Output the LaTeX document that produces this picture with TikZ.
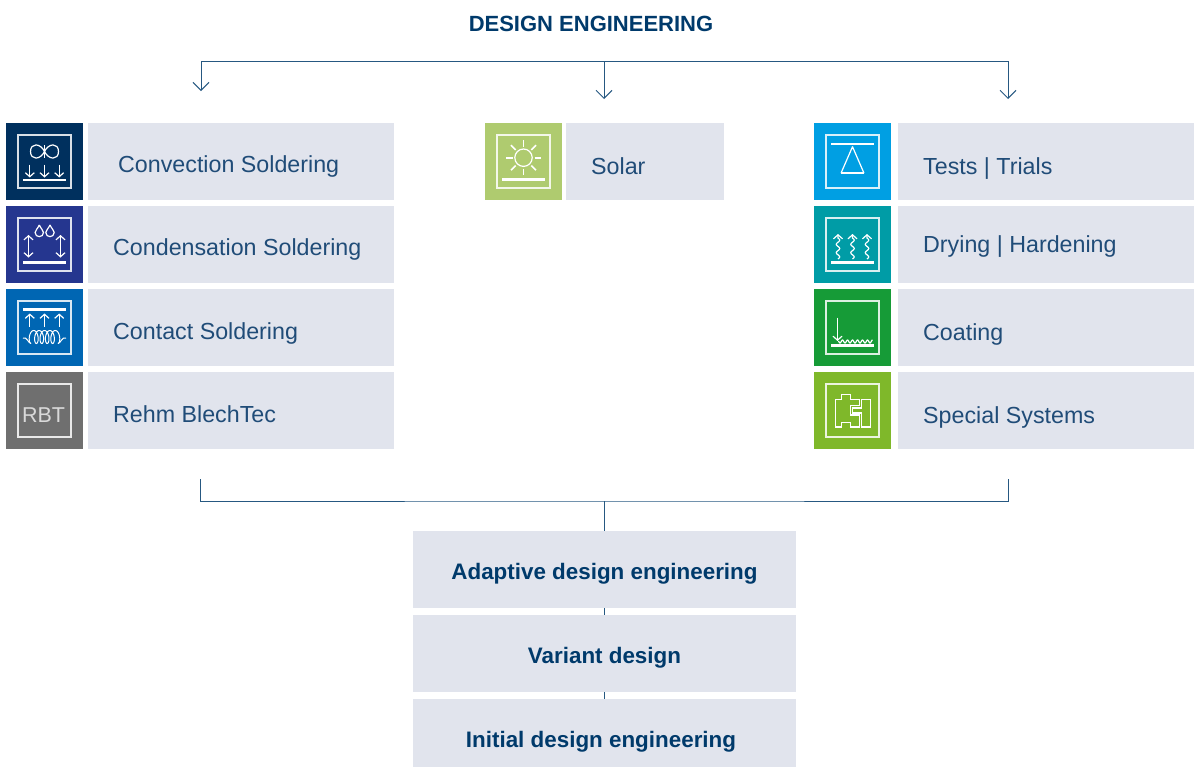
\documentclass[tikz,border=0pt]{standalone}
\usepackage{fontspec}
\setmainfont{Liberation Sans}
\usepackage{tikz}
\usetikzlibrary{arrows.meta,positioning,calc}
\definecolor{deblue}{HTML}{003A6B}
\definecolor{delabel}{HTML}{204C78}
\definecolor{debox}{HTML}{E1E4ED}
\definecolor{convcol}{HTML}{00305E}
\definecolor{condcol}{HTML}{25368F}
\definecolor{contcol}{HTML}{0066B3}
\definecolor{rbtcol}{HTML}{6F6F6F}
\definecolor{solarcol}{HTML}{AFCB6F}
\definecolor{testcol}{HTML}{009FE3}
\definecolor{drycol}{HTML}{009CA6}
\definecolor{coatcol}{HTML}{169B37}
\definecolor{specialcol}{HTML}{7FB82A}
\tikzstyle{iconbox}=[minimum width=77pt,minimum height=77pt,inner sep=0pt,outer sep=0pt]
\tikzstyle{labelbox}=[fill=debox,minimum height=77pt,inner sep=0pt,outer sep=0pt]
\tikzstyle{labeltext}=[anchor=base west,inner sep=0pt,text=delabel,font=\fontsize{23.25}{28}\selectfont]
\tikzstyle{blockbox}=[fill=debox,minimum width=383pt,minimum height=77pt,inner sep=0pt,outer sep=0pt]
\tikzstyle{blocktext}=[anchor=base,inner sep=0pt,text=deblue,font=\bfseries\fontsize{22.4}{28}\selectfont]
\tikzstyle{bus}=[draw=deblue!85,line width=1pt]
\tikzstyle{drop}=[bus,-{Straight Barb[length=8pt,width=16pt]}]
\tikzstyle{glyph}=[draw=white,line width=1.2pt]
\tikzstyle{frame}=[draw=white,line width=1.2pt,opacity=.85]
\tikzstyle{base}=[draw=white,line width=2.2pt]
\tikzstyle{tiny}=[glyph,-{Straight Barb[length=4pt,width=9pt]}]
\tikzstyle{tinyboth}=[glyph,{Straight Barb[length=4pt,width=9pt]}-{Straight Barb[length=4pt,width=9pt]}]
\begin{document}
\begin{tikzpicture}[x=1pt,y=-1pt,node distance=6pt]
\clip (0,0) rectangle (1194,766);
\node [inner sep=0pt,text=deblue,font=\bfseries\fontsize{22}{26}\selectfont] (title) at (591,24) {DESIGN ENGINEERING};

% left column
\node [iconbox,fill=convcol] (convicon) at (44.5,161.5) {};
\node [iconbox,fill=condcol,below=6pt of convicon] (condicon) {};
\node [iconbox,fill=contcol,below=6pt of condicon] (conticon) {};
\node [iconbox,fill=rbtcol,below=6pt of conticon] (rbticon) {};
\node [labelbox,minimum width=306pt,right=5pt of convicon] (convbox) {};
\node [labelbox,minimum width=306pt,right=5pt of condicon] (condbox) {};
\node [labelbox,minimum width=306pt,right=5pt of conticon] (contbox) {};
\node [labelbox,minimum width=306pt,right=5pt of rbticon] (rbtbox) {};
\node [labeltext] (convtext) at ($(convbox.west)+(30,10.8)$) {Convection Soldering};
\node [labeltext] (condtext) at ($(condbox.west)+(25,11.2)$) {Condensation Soldering};
\node [labeltext] (conttext) at ($(contbox.west)+(25,11.5)$) {Contact Soldering};
\node [labeltext] (rbttext) at ($(rbtbox.west)+(25,11.5)$) {Rehm BlechTec};

% middle column
\node [iconbox,fill=solarcol] (solaricon) at (523.5,161.5) {};
\node [labelbox,minimum width=158pt,right=4pt of solaricon] (solarbox) {};
\node [labeltext] (solartext) at ($(solarbox.west)+(25,12.5)$) {Solar};

% right column
\node [iconbox,fill=testcol] (testicon) at (852.5,161.5) {};
\node [iconbox,fill=drycol,below=6pt of testicon] (dryicon) {};
\node [iconbox,fill=coatcol,below=6pt of dryicon] (coaticon) {};
\node [iconbox,fill=specialcol,below=6pt of coaticon] (specialicon) {};
\node [labelbox,minimum width=296pt,right=7pt of testicon] (testbox) {};
\node [labelbox,minimum width=296pt,right=7pt of dryicon] (drybox) {};
\node [labelbox,minimum width=296pt,right=7pt of coaticon] (coatbox) {};
\node [labelbox,minimum width=296pt,right=7pt of specialicon] (specialbox) {};
\node [labeltext] (testtext) at ($(testbox.west)+(25,12.5)$) {Tests | Trials};
\node [labeltext] (drytext) at ($(drybox.west)+(25,7.5)$) {Drying | Hardening};
\node [labeltext] (coattext) at ($(coatbox.west)+(25,12.5)$) {Coating};
\node [labeltext] (specialtext) at ($(specialbox.west)+(25,12.5)$) {Special Systems};

% bottom blocks
\node [blockbox] (adaptive) at (604.5,569.5) {};
\node [blockbox,below=7pt of adaptive] (variant) {};
\node [blockbox,below=7pt of variant] (initial) {};
\node [blocktext] (adaptivetext) at ($(adaptive.center)+(0,9.8)$) {Adaptive design engineering};
\node [blocktext] (varianttext) at ($(variant.center)+(0,9.6)$) {Variant design};
\node [blocktext] (initialtext) at ($(initial.center)+(-3.5,9.6)$) {Initial design engineering};

% connectors
\coordinate (busleft) at (201,61);
\coordinate (busmid) at (604,61);
\coordinate (busright) at (1008,61);
\coordinate (dropleft) at (201,91);
\coordinate (dropmid) at (604,99);
\coordinate (dropright) at (1008,99);
\draw [bus] (busleft) -- (busright);
\draw [drop] (busleft) -- (dropleft);
\draw [drop] (busmid) -- (dropmid);
\draw [drop] (busright) -- (dropright);
\coordinate (forkleft) at (200,479);
\coordinate (forkright) at (1008,479);
\coordinate (forkmid) at (604.5,501);
\draw [bus] (forkleft) |- (forkmid) -| (forkright);
\draw [bus] (forkmid) -- (adaptive.north);
\draw [bus] (adaptive.south) -- (variant.north);
\draw [bus] (variant.south) -- (initial.north);

% icon frames
\foreach \ic in {convicon,condicon,conticon,rbticon,solaricon,testicon,dryicon,coaticon,specialicon}
  \draw [frame] ($(\ic.center)+(-26.5,-26.5)$) rectangle ($(\ic.center)+(26.5,26.5)$);

% convection
\begin{scope}[shift={(convicon.center)}]
\draw [glyph] (0,-10) .. controls (-4,-18.5) and (-14,-19) .. (-14,-10) .. controls (-14,-1) and (-4,-1.5) .. (0,-10)
  .. controls (4,-18.5) and (14,-19) .. (14,-10) .. controls (14,-1) and (4,-1.5) .. (0,-10);
\draw [glyph] (0,-16.5) -- (0,-3.5);
\foreach \x in {-14.7,0,14.7} \draw [tiny] (\x,3) -- (\x,16);
\draw [base] (-21.5,18.5) -- (21.5,18.5);
\end{scope}

% condensation
\begin{scope}[shift={(condicon.center)}]
\foreach \x in {-5.2,5.5}
  \draw [glyph] (\x,-19.5) .. controls (\x-1.5,-16) and (\x-4.2,-14) .. (\x-4.2,-12) .. controls (\x-4.2,-6.5) and (\x+4.2,-6.5) .. (\x+4.2,-12) .. controls (\x+4.2,-14) and (\x+1.5,-16) .. (\x,-19.5);
\foreach \x in {-16,16} \draw [tinyboth] (\x,-9.5) -- (\x,13);
\draw [base] (-21.5,18) -- (21.5,18);
\end{scope}

% contact
\begin{scope}[shift={(conticon.center)}]
\draw [base] (-21.5,-18) -- (21.5,-18);
\foreach \x in {-14.7,0,14.7} \draw [tiny] (\x,-1) -- (\x,-14);
\draw [glyph,line width=1pt] plot [variable=\t,domain=0:1800,samples=140,smooth] ({-13.5+0.015*\t-3*sin(\t)},{9.5+6.5*cos(\t)});
\draw [glyph,line width=1pt] (-21.5,10.5) .. controls (-18,8.5) and (-16,16) .. (-13.5,16);
\draw [glyph,line width=1pt] (21.5,10.5) .. controls (18,8.5) and (16,16) .. (13.5,16);
\end{scope}

% rbt
\node [anchor=base,text=white!85!black,inner sep=0pt,font=\fontsize{21.5}{26}\selectfont] (rbtname) at ($(rbticon.center)+(-1,11.5)$) {RBT};

% solar
\begin{scope}[shift={(solaricon.center)}]
\draw [glyph] (0,-3.8) circle (8.7);
\foreach \a in {0,45,...,315}
  \draw [glyph,line width=1.6pt] ($(0,-3.8)+(\a:11)$) -- ($(0,-3.8)+(\a:17.7)$);
\draw [base] (-21.5,18) -- (21.5,18);
\end{scope}

% tests
\begin{scope}[shift={(testicon.center)}]
\draw [base] (-21.5,-17.5) -- (21.5,-17.5);
\draw [glyph,line join=round] (0,-14.8) -- (11.3,11.2) -- (-11.3,11.2) -- cycle;
\draw [glyph,line width=1.8pt] (-11.3,11.2) -- (11.3,11.2);
\end{scope}

% drying
\begin{scope}[shift={(dryicon.center)}]
\foreach \w in {-14.5,0,14.5}
  \draw [tiny] plot [variable=\t,domain=0:900,samples=40,smooth] ({\w+1.7*sin(\t)},{14.5-0.0233*\t}) -- (\w,-10.5);
\draw [base] (-21.5,18) -- (21.5,18);
\end{scope}

% coating
\begin{scope}[shift={(coaticon.center)}]
\draw [tiny] (-15,-10) -- (-15,13.5);
\draw [glyph] plot [domain=-14:20,samples=70,smooth] (\x,{14-1.5*cos(\x*72)});
\draw [base] (-21.5,18) -- (21.5,18);
\end{scope}

% special systems
\begin{scope}[shift={(specialicon.center)}]
\draw [glyph,line width=1.1pt] (-17.2,-10.8) -- (-10.8,-10.8) -- (-10.8,-16.2) -- (-1.8,-16.2) -- (-1.8,-10.8) -- (7.2,-10.8) -- (7.2,-4.8) -- (-1.8,-4.8) -- (-1.8,4.5) -- (7.2,4.5) -- (7.2,16.5) -- (-1.8,16.5) -- (-1.8,11.8) -- (-10.8,11.8) -- (-10.8,16.5) -- (-17.2,16.5) -- cycle;
\draw [glyph,line width=1.1pt] (9,-10.8) -- (18.2,-10.8) -- (18.2,16.5) -- (9,16.5) -- (9,2.5) -- (0.2,2.5) -- (0.2,-2.5) -- (9,-2.5) -- cycle;
\end{scope}
\end{tikzpicture}
\end{document}
